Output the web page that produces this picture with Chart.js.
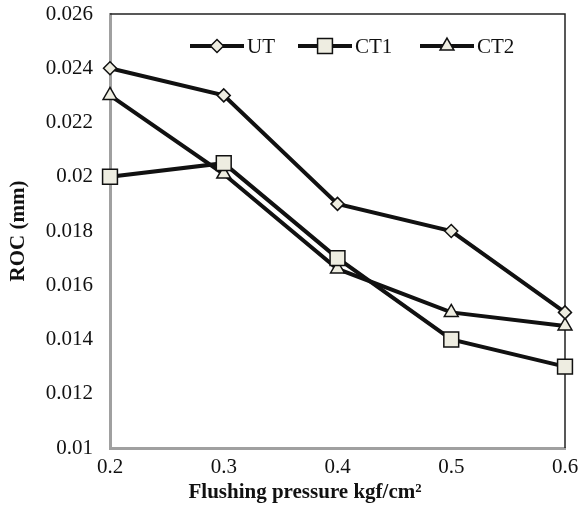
<!DOCTYPE html>
<html>
<head>
<meta charset="utf-8">
<script src="https://cdn.jsdelivr.net/npm/chart.js@4"></script>
<style>
  html, body { margin: 0; padding: 0; background: #fff; }
  #wrap { width: 579px; height: 511px; }
</style>
</head>
<body>
<div id="wrap"><canvas id="roc-chart"></canvas></div>
<script>
    // data
    const pressures = [0.2, 0.3, 0.4, 0.5, 0.6];
    const rocUT  = [0.024, 0.023, 0.019, 0.018, 0.015];
    const rocCT1 = [0.020, 0.0205, 0.017, 0.014, 0.013];
    const rocCT2 = [0.023, 0.0201, 0.0166, 0.015, 0.0145];
    const seriesNames = ['UT', 'CT1', 'CT2'];
    const xTitle = 'Flushing pressure kgf/cm²';

    const serif = "'Liberation Serif', 'Times New Roman', serif";
    const markerFill = '#eeede1';
    const axisGray = '#a0a0a0';

    function toPoints(ys) {
        return pressures.map((x, i) => ({ x: x, y: ys[i] }));
    }

    function makeSet(label, ys, style, r) {
        return {
            label: label,
            data: toPoints(ys),
            borderColor: '#111',
            borderWidth: 4,
            pointStyle: style,
            pointRadius: r,
            pointHoverRadius: r,
            pointBackgroundColor: markerFill,
            pointBorderColor: '#111',
            pointBorderWidth: 1.5,
            tension: 0,
            clip: false
        };
    }

    // top/right frame lines + x axis title (sits a little left of centre in the original)
    const frame = {
        id: 'frame',
        beforeDatasetsDraw(chart) {
            const { ctx, chartArea: a } = chart;
            ctx.save();
            ctx.strokeStyle = '#222';
            ctx.lineWidth = 1.5;
            ctx.beginPath();
            ctx.moveTo(a.left, a.top);
            ctx.lineTo(a.right, a.top);
            ctx.lineTo(a.right, a.bottom);
            ctx.stroke();

            ctx.fillStyle = '#111';
            ctx.font = 'bold 21px ' + serif;
            ctx.textAlign = 'center';
            ctx.textBaseline = 'middle';
            ctx.fillText(xTitle, 305, a.bottom + 45);
            ctx.restore();
        }
    };

    // legend drawn inside the plot, line + marker style
    const innerLegend = {
        id: 'innerLegend',
        afterDatasetsDraw(chart) {
            const { ctx, chartArea: a } = chart;
            const y = a.top + 32;
            const starts = [a.left + 80, a.left + 188, a.left + 310];
            ctx.save();
            chart.data.datasets.forEach((ds, i) => {
                const x0 = starts[i];
                ctx.strokeStyle = ds.borderColor;
                ctx.lineWidth = ds.borderWidth;
                ctx.beginPath();
                ctx.moveTo(x0, y);
                ctx.lineTo(x0 + 54, y);
                ctx.stroke();
                ctx.fillStyle = ds.pointBackgroundColor;
                ctx.strokeStyle = ds.pointBorderColor;
                ctx.lineWidth = ds.pointBorderWidth;
                Chart.helpers.drawPoint(ctx, {
                    pointStyle: ds.pointStyle,
                    radius: ds.pointRadius,
                    rotation: 0,
                    borderWidth: ds.pointBorderWidth
                }, x0 + 27, y);
                ctx.fillStyle = '#111';
                ctx.font = '21px ' + serif;
                ctx.textBaseline = 'middle';
                ctx.fillText(ds.label, x0 + 57, y + 1);
            });
            ctx.restore();
        }
    };

    const rocChart = new Chart(document.getElementById('roc-chart'), {
        type: 'line',
        data: {
            datasets: [
                makeSet(seriesNames[0], rocUT, 'rectRot', 6.5),
                makeSet(seriesNames[1], rocCT1, 'rect', 10.5),
                makeSet(seriesNames[2], rocCT2, 'triangle', 8)
            ]
        },
        options: {
            responsive: true,
            maintainAspectRatio: false,
            animation: false,
            layout: { padding: { top: 14, right: 14, left: 0, bottom: 0 } },
            plugins: {
                legend: { display: false },
                tooltip: { enabled: false }
            },
            scales: {
                x: {
                    type: 'linear',
                    min: 0.2,
                    max: 0.6,
                    grid: { display: false, drawTicks: false },
                    border: { color: axisGray, width: 3 },
                    ticks: {
                        stepSize: 0.1,
                        padding: 7,
                        color: '#111',
                        font: { family: serif, size: 21 },
                        callback: v => String(+v.toFixed(1))
                    },
                    afterFit(scale) {
                        scale.height = 63;
                        scale.paddingLeft = 0;
                        scale.paddingRight = 0;
                    }
                },
                y: {
                    min: 0.01,
                    max: 0.026,
                    grid: { display: false, drawTicks: false },
                    border: { color: axisGray, width: 3 },
                    ticks: {
                        stepSize: 0.002,
                        padding: 17,
                        color: '#111',
                        font: { family: serif, size: 21 },
                        callback: v => String(+v.toFixed(3))
                    },
                    title: {
                        display: true,
                        text: 'ROC (mm)',
                        color: '#111',
                        padding: { top: 6, bottom: 0 },
                        font: { family: serif, size: 21, weight: 'bold' }
                    },
                    afterFit(scale) {
                        scale.width = 110;
                        scale.paddingTop = 0;
                        scale.paddingBottom = 0;
                    }
                }
            }
        },
        plugins: [frame, innerLegend]
    });
</script>
</body>
</html>
